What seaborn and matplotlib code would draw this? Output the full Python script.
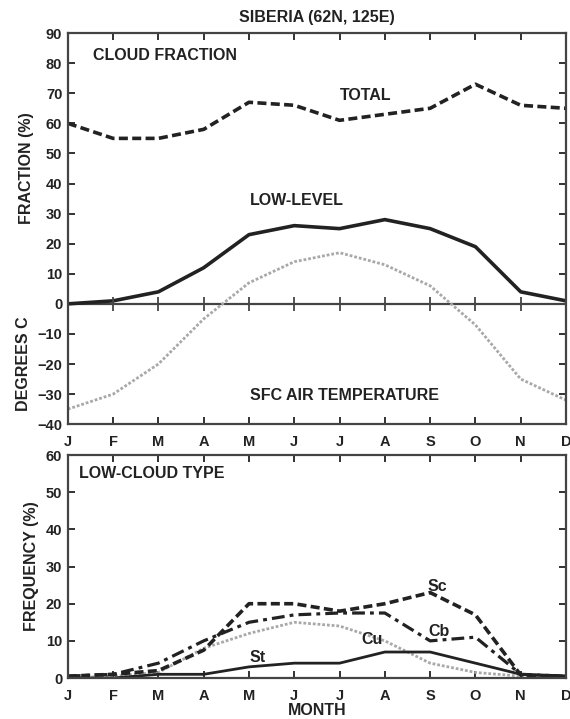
import numpy as np
import pandas as pd
import matplotlib
matplotlib.use("Agg")
import matplotlib.pyplot as plt
import matplotlib.transforms as mtransforms
import seaborn as sns

# ## Data ## #
months = ["J", "F", "M", "A", "M", "J", "J", "A", "S", "O", "N", "D"]
total_cloud = [60, 55, 55, 58, 67, 66, 61, 63, 65, 73, 66, 65]
low_cloud = [0, 1, 4, 12, 23, 26, 25, 28, 25, 19, 4, 1]
air_temp = [-35, -30, -20, -5, 7, 14, 17, 13, 6, -7, -25, -32]
sc_freq = [0.5, 1, 2, 7.5, 20, 20, 18, 20, 23, 17, 0.8, 0.5]
cb_freq = [0.5, 1, 4, 10, 15, 17, 17.5, 17.5, 10, 11, 1, 0.5]
cu_freq = [0, 0.5, 1.5, 8, 12, 15, 14, 10, 4, 1.5, 0.5, 0]
st_freq = [0, 0, 1, 1, 3, 4, 4, 7, 7, 4, 1, 0.5]

# ## Style ## #
sns.set_style("ticks")
plt.rcParams["font.family"] = ["Liberation Sans", "DejaVu Sans"]
plt.rcParams["font.weight"] = "bold"
ink = "#222222"
grey = "#a8a8a8"
fs = 11.5

x = np.arange(len(months))
fig = plt.figure(figsize=(5.7, 7.19), dpi=100)
ax_top = fig.add_axes([0.119, 0.410, 0.874, 0.544])
ax_bot = fig.add_axes([0.119, 0.057, 0.874, 0.310])


def style_axes(ax, ylim, ystep):
    ax.set_xlim(0, 11)
    ax.set_ylim(*ylim)
    ax.set_xticks(x)
    ax.set_xticklabels(months)
    ax.set_yticks(np.arange(ylim[0], ylim[1] + 1, ystep))
    ax.tick_params(direction="in", top=True, right=True, length=5, width=1.3,
                   colors=ink, labelsize=10.5, pad=4)
    ax.tick_params(axis="x", pad=8)
    for lab in ax.get_xticklabels() + ax.get_yticklabels():
        lab.set_fontweight("bold")
    for sp in ax.spines.values():
        sp.set_color("#444444")
        sp.set_linewidth(1.6)
    ax.set_xlabel("")
    ax.set_ylabel("")


# Top panel: cloud fraction + air temperature
sns.lineplot(x=x, y=air_temp, ax=ax_top, color=grey, lw=2.0, linestyle=(0, (1, 0.7)))
sns.lineplot(x=x, y=total_cloud, ax=ax_top, color=ink, lw=2.6, linestyle=(0, (2.5, 1.2)))
sns.lineplot(x=x, y=low_cloud, ax=ax_top, color=ink, lw=2.6)
style_axes(ax_top, (-40, 90), 10)
ax_top.axhline(0, color="#444444", lw=1.6, zorder=1)
ax_top.plot(x, np.zeros(len(x)), ls="none", marker="|", ms=10, mew=1.3, color="#444444")

ax_top.text(0.56, 82.7, "CLOUD FRACTION", fontsize=fs, fontweight="bold", color=ink, va="center")
ax_top.text(6.0, 69.3, "TOTAL", fontsize=fs, fontweight="bold", color=ink, va="center")
ax_top.text(4.02, 34.3, "LOW-LEVEL", fontsize=fs, fontweight="bold", color=ink, va="center")
ax_top.text(4.03, -30.4, "SFC AIR TEMPERATURE", fontsize=fs, fontweight="bold", color=ink, va="center")

trans = mtransforms.blended_transform_factory(ax_top.transAxes, ax_top.transData)
ax_top.text(-0.082, 45, "FRACTION (%)", transform=trans, rotation=90, ha="center", va="center",
            fontsize=fs, fontweight="bold", color=ink)
ax_top.text(-0.088, -20, "DEGREES C", transform=trans, rotation=90, ha="center", va="center",
            fontsize=fs, fontweight="bold", color=ink)

fig.text(0.556, 0.976, "SIBERIA (62N, 125E)", ha="center", va="center",
         fontsize=fs, fontweight="bold", color=ink)

# Bottom panel: low-cloud type
sns.lineplot(x=x, y=cu_freq, ax=ax_bot, color=grey, lw=2.0, linestyle=(0, (1, 0.7)))
sns.lineplot(x=x, y=st_freq, ax=ax_bot, color=ink, lw=2.0)
sns.lineplot(x=x, y=cb_freq, ax=ax_bot, color=ink, lw=2.3, linestyle=(0, (4, 1.6, 1.2, 1.6)))
sns.lineplot(x=x, y=sc_freq, ax=ax_bot, color=ink, lw=2.6, linestyle=(0, (2.5, 1.2)))
style_axes(ax_bot, (0, 60), 10)

ax_bot.text(0.24, 55, "LOW-CLOUD TYPE", fontsize=fs, fontweight="bold", color=ink, va="center")
ax_bot.text(7.95, 24.7, "Sc", fontsize=fs, fontweight="bold", color=ink, va="center")
ax_bot.text(7.95, 12.6, "Cb", fontsize=fs, fontweight="bold", color=ink, va="center")
ax_bot.text(6.49, 10.5, "Cu", fontsize=fs, fontweight="bold", color=ink, va="center")
ax_bot.text(4.02, 5.4, "St", fontsize=fs, fontweight="bold", color=ink, va="center")
ax_bot.set_ylabel("FREQUENCY (%)", fontsize=fs, fontweight="bold", color=ink, labelpad=5)
ax_bot.set_xlabel("MONTH", fontsize=fs, fontweight="bold", color=ink, labelpad=0)

fig.savefig("out.png", dpi=100)
